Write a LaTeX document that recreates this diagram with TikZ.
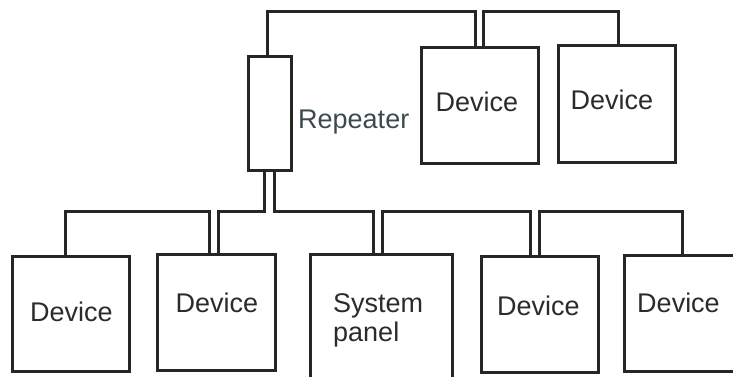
\documentclass[tikz,border=0pt]{standalone}
\usepackage{fontspec}
\setmainfont{Liberation Sans}
\usepackage{xcolor}
\usetikzlibrary{positioning}
\definecolor{ink}{HTML}{262626}
\definecolor{txtgray}{HTML}{2B2B2B}
\definecolor{slate}{HTML}{3B4A4D}
\tikzset{
  unitbox/.style={draw=ink,line width=3pt,inner sep=0pt},
  wire/.style={draw=ink,line width=3pt,line join=miter},
  lbl/.style={inner sep=0pt,text=txtgray,font=\fontsize{27}{28.5}\selectfont}
}

\begin{document}
\begin{tikzpicture}[x=1pt,y=-1pt]
  \useasboundingbox (0,0) rectangle (733,376);

  % upper row
  \node[unitbox,minimum width=43pt,minimum height=114pt] (rep) at (269.5,113) {};
  \node[unitbox,minimum width=117pt,minimum height=116pt] (td1) at (479.5,105) {};
  \node[unitbox,minimum width=117pt,minimum height=117pt] (td2) at (616.5,103.5) {};

  % lower row
  \node[unitbox,minimum width=117pt,minimum height=115pt] (bd1) at (70.5,313.5) {};
  \node[unitbox,minimum width=118pt,minimum height=116pt] (bd2) at (216,312) {};
  \node[unitbox,minimum width=142pt,minimum height=152pt] (sp) at (381,330) {};
  \node[unitbox,minimum width=117pt,minimum height=116pt] (bd4) at (539.5,314) {};
  \node[unitbox,minimum width=117pt,minimum height=116pt] (bd5) at (682.5,313) {};

  % labels
  \node[lbl,text=slate,anchor=base west] (reptxt) at (298,128) {Repeater};
  \node[lbl] (td1txt) at (477,102) {Device};
  \node[lbl] (td2txt) at (612,100) {Device};
  \node[lbl] (bd1txt) at (71.5,312) {Device};
  \node[lbl] (bd2txt) at (217,303) {Device};
  \node[lbl,align=left,anchor=base west] (sptxt) at (333,341) {System\\panel};
  \node[lbl] (bd4txt) at (538.5,306) {Device};
  \node[lbl] (bd5txt) at (678.5,303) {Device};

  % bus levels
  \coordinate (topbus) at (0,11);
  \coordinate (lowbus) at (0,211);

  % upper wiring
  \draw[wire] ([xshift=-2pt]rep.north) -- ([xshift=-2pt]rep.north |- topbus) -| ([xshift=-4.5pt]td1.north);
  \draw[wire] ([xshift=3.5pt]td1.north) -- ([xshift=3.5pt]td1.north |- topbus) -| ([xshift=1.5pt]td2.north);

  % lower wiring
  \draw[wire] ([xshift=-5.5pt]rep.south) -- ([xshift=-5.5pt]rep.south |- lowbus) -| ([xshift=2pt]bd2.north);
  \draw[wire] ([xshift=-7pt]bd2.north) -- ([xshift=-7pt]bd2.north |- lowbus) -| ([xshift=-5.5pt]bd1.north);
  \draw[wire] ([xshift=4.5pt]rep.south) -- ([xshift=4.5pt]rep.south |- lowbus) -| ([xshift=-8pt]sp.north);
  \draw[wire] ([xshift=1pt]sp.north) -- ([xshift=1pt]sp.north |- lowbus) -| ([xshift=-9.5pt]bd4.north);
  \draw[wire] (bd4.north) -- (bd4.north |- lowbus) -| (bd5.north);
\end{tikzpicture}
\end{document}
